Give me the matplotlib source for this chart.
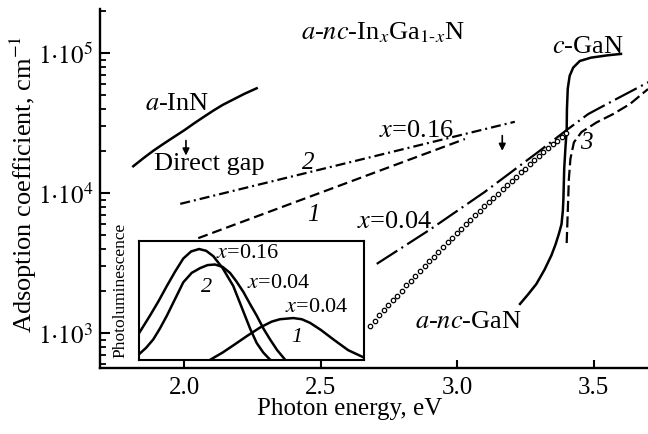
import matplotlib
matplotlib.use('Agg')
import matplotlib.pyplot as plt
from matplotlib.ticker import FixedLocator, FixedFormatter, LogLocator, NullFormatter

plt.rcParams['font.family'] = 'serif'
plt.rcParams['font.serif'] = ['Liberation Serif', 'DejaVu Serif']
plt.rcParams['mathtext.fontset'] = 'stix'

# a-InN absorption edge
inn_e = [1.813, 1.850, 1.886, 1.923, 1.960, 2.000, 2.033, 2.070, 2.106, 2.140, 2.179, 2.220, 2.265]
inn_a = [1.56e4, 1.78e4, 2.01e4, 2.25e4, 2.51e4, 2.82e4, 3.13e4, 3.50e4, 3.89e4, 4.27e4, 4.67e4, 5.13e4, 5.62e4]

# curve 2 (x=0.16, dash-dot) and curve 1 (dashed)
c2_e = [1.985, 3.211]
c2_a = [8.4e3, 3.24e4]
c1_e = [2.051, 3.028]
c1_a = [4.78e3, 2.44e4]

# x=0.04 dash-dot
x04_e = [2.705, 2.90, 3.10, 3.30, 3.40, 3.48, 3.571, 3.70]
x04_a = [3130, 5500, 10200, 19950, 28200, 36800, 45800, 62100]

# curve 3 (dashed)
c3_e = [3.401, 3.4066, 3.409, 3.4147, 3.4275, 3.4557, 3.511, 3.5714, 3.633, 3.699]
c3_a = [4410, 9100, 12600, 17600, 23100, 27400, 32100, 36800, 43400, 55500]

# c-GaN / a-nc-GaN solid
gan_e = [3.230, 3.260, 3.290, 3.320, 3.345, 3.360, 3.372, 3.382, 3.387, 3.389,
         3.392, 3.397, 3.401, 3.402, 3.405, 3.412, 3.425, 3.449, 3.490, 3.550, 3.600]
gan_a = [1620, 1900, 2250, 2850, 3600, 4300, 5100, 6000, 7500, 9100,
         15000, 22000, 28000, 40000, 56000, 69000, 79000, 88000, 93000, 96600, 98900]

# open circles
dots_e = [2.680, 2.697, 2.713, 2.730, 2.747, 2.764, 2.780, 2.797, 2.814, 2.831,
          2.847, 2.864, 2.881, 2.898, 2.914, 2.931, 2.948, 2.965, 2.981, 2.998,
          3.015, 3.032, 3.048, 3.065, 3.082, 3.099, 3.115, 3.132, 3.149, 3.166,
          3.182, 3.199, 3.216, 3.233, 3.249, 3.266, 3.283, 3.300, 3.316, 3.333,
          3.350, 3.367, 3.383, 3.400]
dots_a = [1130, 1230, 1340, 1460, 1580, 1720, 1860, 2020, 2200, 2380,
          2570, 2790, 3020, 3270, 3520, 3810, 4120, 4450, 4790, 5170,
          5570, 6010, 6450, 6950, 7480, 8050, 8620, 9260, 9950, 10700,
          11400, 12200, 13100, 14100, 15000, 16100, 17200, 18400, 19600, 20900,
          22300, 23800, 25300, 27000]

# inset photoluminescence (arb. units)
pl16_e = [1.836, 1.855, 1.874, 1.905, 1.936, 1.966, 1.996, 2.025, 2.054, 2.080,
          2.106, 2.140, 2.179, 2.210, 2.241, 2.265, 2.289, 2.314]
pl16_i = [0.23, 0.30, 0.37, 0.49, 0.62, 0.74, 0.85, 0.91, 0.93, 0.915,
          0.87, 0.77, 0.62, 0.44, 0.26, 0.14, 0.06, 0.0]
pl2_e = [1.836, 1.860, 1.886, 1.910, 1.936, 1.966, 1.996, 2.027, 2.058, 2.085,
         2.112, 2.140, 2.167, 2.190, 2.216, 2.240, 2.265, 2.290, 2.314, 2.340, 2.369]
pl2_i = [0.05, 0.10, 0.17, 0.26, 0.37, 0.51, 0.65, 0.73, 0.77, 0.795,
         0.80, 0.78, 0.73, 0.66, 0.57, 0.47, 0.37, 0.26, 0.17, 0.08, 0.0]
pl1_e = [2.095, 2.140, 2.179, 2.230, 2.277, 2.320, 2.350, 2.399, 2.430, 2.460,
         2.500, 2.546, 2.600, 2.656]
pl1_i = [0.0, 0.06, 0.12, 0.20, 0.27, 0.32, 0.34, 0.35, 0.34, 0.31,
         0.25, 0.17, 0.08, 0.02]

y_ticks = [1e3, 1e4, 1e5]
y_labels = [r'$1{\cdot}10^3$', r'$1{\cdot}10^4$', r'$1{\cdot}10^5$']
x_ticks = [2.0, 2.5, 3.0, 3.5]
x_labels = ['2.0', '2.5', '3.0', '3.5']

W, H = 648, 435


def px(x, y):
    return x / W, 1 - y / H


fig = plt.figure(figsize=(W / 100, H / 100), dpi=100)
ax = fig.add_axes([100 / W, 1 - 369 / H, 548 / W, 359 / H])
ax.set_yscale('log')
ax.set_xlim(1.691, 3.699)
ax.set_ylim(565, 2.07e5)
for s in ['top', 'right']:
    ax.spines[s].set_visible(False)
for s in ['left', 'bottom']:
    ax.spines[s].set_linewidth(1.7)

ax.yaxis.set_major_locator(FixedLocator(y_ticks))
ax.yaxis.set_major_formatter(FixedFormatter(y_labels))
ax.yaxis.set_minor_locator(LogLocator(base=10, subs=range(2, 10)))
ax.yaxis.set_minor_formatter(NullFormatter())
ax.set_xticks(x_ticks)
ax.set_xticklabels(x_labels)
ax.tick_params(axis='both', which='major', direction='in', labelsize=18, width=1.5)
ax.tick_params(axis='y', which='major', length=7, pad=5)
ax.tick_params(axis='y', which='minor', direction='in', length=4.5, width=1.3)
ax.tick_params(axis='x', which='major', length=6, pad=6)

ax.set_xlabel('Photon energy, eV', fontsize=18)
ax.xaxis.set_label_coords(0.456, -0.08)
ax.set_ylabel('Adsoption coefficient, cm$^{-1}$', fontsize=19)
ax.yaxis.set_label_coords(-0.112, 0.515)

ax.plot(inn_e, inn_a, color='k', lw=1.8)
ax.plot(c2_e, c2_a, color='k', lw=1.6, dashes=[4.5, 1.8, 0.9, 1.8])
ax.plot(c1_e, c1_a, color='k', lw=1.6, dashes=[4.5, 2.2])
ax.plot(x04_e, x04_a, color='k', lw=1.6, dashes=[11, 2.2, 0.9, 2.2])
ax.plot(c3_e, c3_a, color='k', lw=1.6, dashes=[5, 2])
ax.plot(gan_e, gan_a, color='k', lw=1.8)
ax.plot(dots_e, dots_a, 'o', ls='none', ms=3.2, mfc='white', mec='k', mew=0.9)

arrow = dict(arrowstyle='-|>', color='k', lw=1.2, mutation_scale=10, shrinkA=0, shrinkB=0)
ax.annotate('', xy=(2.006, 1.86e4), xytext=(2.006, 2.38e4), arrowprops=arrow)
ax.annotate('', xy=(3.165, 2.01e4), xytext=(3.165, 2.58e4), arrowprops=arrow)

fig.text(*px(383, 33), r'$a$-$nc$-In$_x$Ga$_{1\text{-}x}$N', fontsize=19, ha='center', va='center')
fig.text(*px(177, 104), r'$a$-InN', fontsize=19, ha='center', va='center')
fig.text(*px(209, 164), 'Direct gap', fontsize=19, ha='center', va='center')
fig.text(*px(308, 163), '2', fontsize=18, style='italic', ha='center', va='center')
fig.text(*px(313, 215), '1', fontsize=18, style='italic', ha='center', va='center')
fig.text(*px(416, 131), r'$x$=0.16', fontsize=19, ha='center', va='center')
fig.text(*px(395, 222), r'$x$=0.04', fontsize=19, ha='center', va='center')
fig.text(*px(586, 143), '3', fontsize=18, style='italic', ha='center', va='center')
fig.text(*px(588, 47), r'$c$-GaN', fontsize=19, ha='center', va='center')
fig.text(*px(468, 322), r'$a$-$nc$-GaN', fontsize=19, ha='center', va='center')

ins = fig.add_axes([139.3 / W, 1 - 360.7 / H, 225 / W, 119 / H])
ins.set_xlim(1.835, 2.659)
ins.set_ylim(0, 1)
ins.set_xticks([])
ins.set_yticks([])
for s in ins.spines.values():
    s.set_linewidth(1.5)
ins.plot(pl16_e, pl16_i, color='k', lw=1.8)
ins.plot(pl2_e, pl2_i, color='k', lw=1.8)
ins.plot(pl1_e, pl1_i, color='k', lw=1.8)

fig.text(*px(120, 290), 'Photoluminescence', fontsize=12.5, rotation=90, ha='center', va='center')
fig.text(*px(248, 253), r'$x$=0.16', fontsize=16, ha='center', va='center')
fig.text(*px(279, 283), r'$x$=0.04', fontsize=16, ha='center', va='center')
fig.text(*px(317, 308), r'$x$=0.04', fontsize=16, ha='center', va='center')
fig.text(*px(207, 288), '2', fontsize=16, style='italic', ha='center', va='center')
fig.text(*px(297, 337), '1', fontsize=16, style='italic', ha='center', va='center')

fig.savefig('out.png', dpi=100)
